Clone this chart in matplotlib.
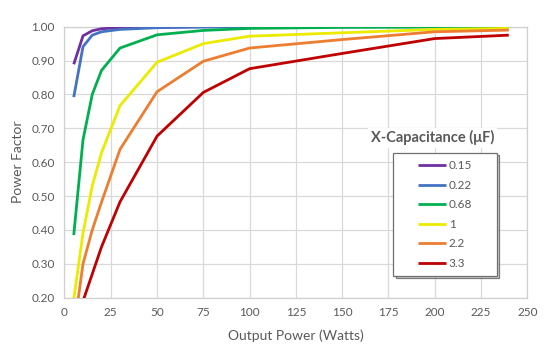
import matplotlib
matplotlib.use("Agg")
import matplotlib.pyplot as plt
from matplotlib.patches import Rectangle, Shadow

# Data
power_w = [5, 10, 15, 20, 30, 50, 75, 100, 150, 200, 240]
labels = ["0.15", "0.22", "0.68", "1", "2.2", "3.3"]
pf_015 = [0.889, 0.973, 0.988, 0.994, 0.997, 0.999, 1.000, 1.000, 1.000, 1.000, 1.000]
pf_022 = [0.792, 0.941, 0.975, 0.985, 0.992, 0.997, 0.999, 1.000, 1.000, 1.000, 1.000]
pf_068 = [0.385, 0.666, 0.800, 0.871, 0.937, 0.976, 0.989, 0.995, 0.998, 0.999, 1.000]
pf_1 = [0.195, 0.390, 0.530, 0.628, 0.767, 0.895, 0.950, 0.972, 0.982, 0.992, 0.995]
pf_22 = [0.100, 0.300, 0.400, 0.482, 0.638, 0.808, 0.898, 0.937, 0.962, 0.985, 0.990]
pf_33 = [0.050, 0.190, 0.270, 0.350, 0.483, 0.677, 0.806, 0.876, 0.921, 0.965, 0.975]
series = [pf_015, pf_022, pf_068, pf_1, pf_22, pf_33]
colors = ["#7030A0", "#4472C4", "#00B050", "#EBEB00", "#ED7D31", "#C00000"]

x_ticks = [0, 25, 50, 75, 100, 125, 150, 175, 200, 225, 250]
y_ticks = [0.20, 0.30, 0.40, 0.50, 0.60, 0.70, 0.80, 0.90, 1.00]

plt.rcParams['font.family'] = ['Lato', 'DejaVu Sans']
txt = "#595959"

fig = plt.figure(figsize=(5.54, 3.54), dpi=100)
ax = fig.add_axes([0.1164, 0.159, 0.8354, 0.7656])

for vals, c, lab in zip(series, colors, labels):
    ax.plot(power_w, vals, color=c, lw=2.0, label=lab, solid_capstyle='butt', zorder=3)

ax.set_xlim(0, 250)
ax.set_ylim(0.20, 1.00)
ax.set_xticks(x_ticks)
ax.set_yticks(y_ticks)
ax.set_yticklabels([f"{v:.2f}" for v in y_ticks])
ax.grid(True, color="#D9D9D9", lw=0.9, zorder=0)
for s in ax.spines.values():
    s.set_color("#D0D0D0")
    s.set_linewidth(0.9)
ax.tick_params(length=0, labelsize=8.5, labelcolor=txt, pad=7)
ax.set_xlabel("Output Power (Watts)", fontsize=10, color=txt, labelpad=8)
ax.set_ylabel("Power Factor", fontsize=10, color=txt, labelpad=5)

# Legend box with shadow
box = Rectangle((0.71, 0.080), 0.224, 0.454, transform=ax.transAxes,
                facecolor="white", edgecolor="#6F6F6F", lw=0.9, zorder=5)
sh = Shadow(box, 0.004, -0.006, facecolor="#BBBBBB", alpha=0.7, zorder=4)
ax.add_patch(sh)
ax.add_patch(box)
leg = ax.legend(loc='center', bbox_to_anchor=(0.822, 0.307), frameon=False,
                fontsize=8.5, handlelength=2.4, handletextpad=0.2,
                labelspacing=0.72, borderpad=0)
leg.set_zorder(6)
for t in leg.get_texts():
    t.set_color(txt)

ax.text(0.795, 0.59, "X-Capacitance (μF)", transform=ax.transAxes, ha='center',
        va='center', fontsize=10.5, fontweight='bold', color=txt, zorder=6,
        bbox=dict(facecolor='white', edgecolor='none', pad=2))

fig.savefig("out.png", dpi=100)
